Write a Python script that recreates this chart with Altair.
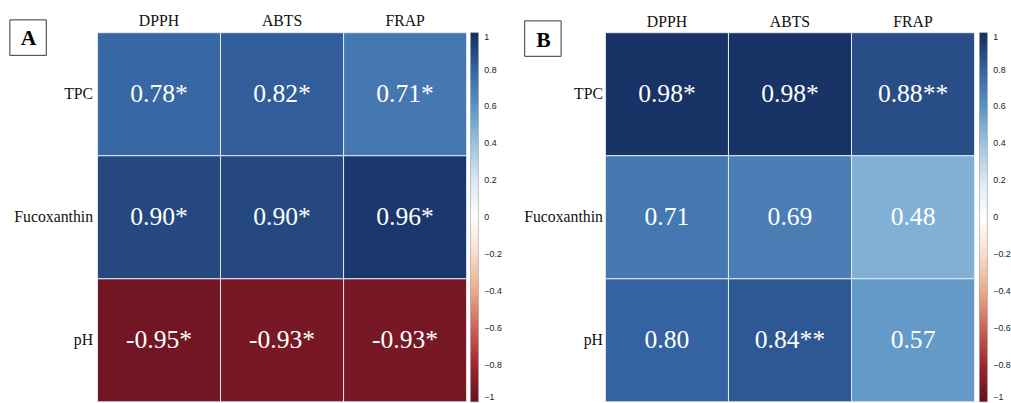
import altair as alt
import pandas as pd

cols = ["DPPH", "ABTS", "FRAP"]
rows = ["TPC", "Fucoxanthin", "pH"]

a_values = [0.78, 0.82, 0.71, 0.90, 0.90, 0.96, -0.95, -0.93, -0.93]
a_labels = ["0.78*", "0.82*", "0.71*", "0.90*", "0.90*", "0.96*", "-0.95*", "-0.93*", "-0.93*"]
b_values = [0.98, 0.98, 0.88, 0.71, 0.69, 0.48, 0.80, 0.84, 0.57]
b_labels = ["0.98*", "0.98*", "0.88**", "0.71", "0.69", "0.48", "0.80", "0.84**", "0.57"]

legend_ticks = [1, 0.8, 0.6, 0.4, 0.2, 0, -0.2, -0.4, -0.6, -0.8, -1]
color_domain = [-1, -0.8, -0.6, -0.4, -0.2, 0, 0.2, 0.4, 0.6, 0.8, 1]
color_range = ["#63111f", "#a0262f", "#cc6357", "#eba989", "#f9dcc9", "#ffffff",
               "#d9e8f2", "#9cc3df", "#5a93c3", "#3462a2", "#152e5e"]

SERIF = "Liberation Serif"


def make_df(values, labels):
    recs = []
    i = 0
    for r in rows:
        for c in cols:
            recs.append({"row": r, "col": c, "r": values[i], "label": labels[i]})
            i += 1
    return pd.DataFrame(recs)


def panel(values, labels, letter, box, ylabpad, xlabpad, legoff):
    df = make_df(values, labels)
    base = alt.Chart(df)
    x = alt.X("col:N", sort=cols, title=None,
              axis=alt.Axis(orient="top", labelAngle=0, labelFont=SERIF, labelFontSize=16,
                            labelColor="#111", ticks=False, domain=False, labelPadding=xlabpad))
    y = alt.Y("row:N", sort=rows, title=None,
              axis=alt.Axis(labelFont=SERIF, labelFontSize=16, labelColor="#111",
                            ticks=False, domain=False, labelPadding=ylabpad))
    rect = base.mark_rect(stroke="#e4ebf3", strokeWidth=1).encode(
        x=x, y=y,
        color=alt.Color("r:Q", title=None,
                        scale=alt.Scale(domain=color_domain, range=color_range, interpolate="rgb"),
                        legend=alt.Legend(values=legend_ticks, format="~g", gradientLength=375,
                                          gradientThickness=8, labelFont="Liberation Sans",
                                          labelFontSize=9, labelColor="#222", offset=legoff,
                                          gradientStrokeColor="#888", gradientStrokeWidth=0.5,
                                          labelOffset=6, padding=0)),
    )
    txt = base.mark_text(font=SERIF, fontSize=26, color="white").encode(
        x=alt.X("col:N", sort=cols), y=alt.Y("row:N", sort=rows), text="label:N"
    )
    bx0, by0, bx1, by1, tx, ty = box
    boxdf = pd.DataFrame({"t": [letter]})
    boxmark = alt.Chart(boxdf).mark_rect(fill="white", stroke="#333", strokeWidth=1).encode(
        x=alt.value(bx0), x2=alt.value(bx1), y=alt.value(by0), y2=alt.value(by1)
    )
    lettermark = alt.Chart(boxdf).mark_text(font=SERIF, fontSize=22, fontWeight="bold",
                                            baseline="alphabetic", align="center").encode(
        x=alt.value(tx), y=alt.value(ty), text="t:N"
    )
    return alt.layer(rect, txt, boxmark, lettermark).properties(width=375, height=375)


pa = panel(a_values, a_labels, "A", (-89, -13, -52, 23, -70, 13), 5, 4, 4)
pb = panel(b_values, b_labels, "B", (-82, -12, -45, 24, -63, 15), 3, 3, 5)

chart = alt.hconcat(pa, pb, spacing=22).resolve_scale(color="independent").properties(
    padding={"left": 9, "top": 10, "right": 0, "bottom": 0},
).configure_view(stroke=None).configure_legend(orient="right")

chart.save("out.html", embed_options={"renderer": "svg", "actions": False})
